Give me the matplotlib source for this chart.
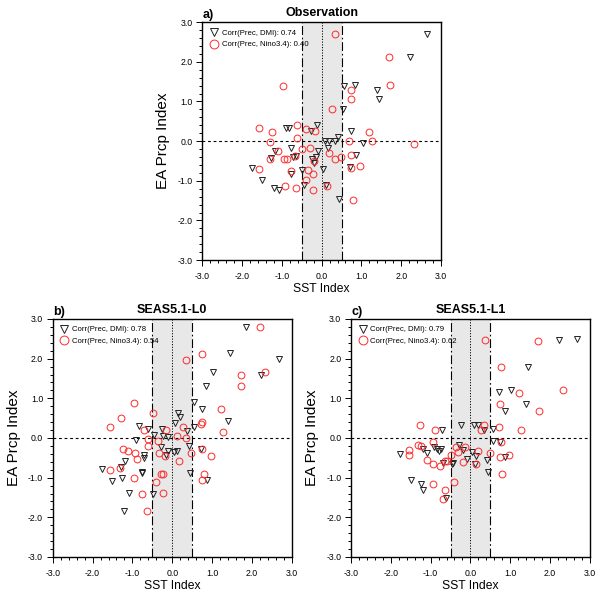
import matplotlib
matplotlib.use("Agg")
import matplotlib.pyplot as plt
from matplotlib.ticker import MultipleLocator, FormatStrFormatter

plt.rcParams["font.family"] = ["Liberation Sans", "DejaVu Sans"]
plt.rcParams["axes.unicode_minus"] = False

# panel a: observation
obs_dmi_x = [2.66, 2.21, 0.56, 0.85, 1.39, 1.43, 0.54, -0.89, -0.83, -0.12, -0.26, 0.73, 0.42,
             0.08, 0.18, 0.34, 1.03, -0.78, -1.18, -0.09, 0.15, -1.27, -0.72, -0.64, -0.24,
             -0.13, 0.86, -1.76, -0.49, -0.19, 0.03, 0.72, -0.77, -1.50, -1.20, -1.07, -0.44,
             0.11, 0.44]
obs_dmi_y = [2.70, 2.13, 1.39, 1.42, 1.30, 1.06, 0.81, 0.32, 0.34, 0.41, 0.25, 0.25, 0.10,
             0.01, 0.01, 0.01, -0.05, -0.18, -0.26, -0.24, -0.17, -0.42, -0.40, -0.37, -0.44,
             -0.39, -0.34, -0.68, -0.74, -0.55, -0.71, -0.66, -0.82, -0.97, -1.18, -1.23, -1.10,
             -1.10, -1.47]
obs_nino_x = [0.34, 1.70, 1.71, -0.96, 0.74, 0.74, 0.25, -1.57, -1.25, -0.63, -0.63, -0.38,
              -0.17, -1.29, 0.69, 1.20, 1.26, 2.32, -1.10, -0.49, -0.28, 0.18, -1.30, -0.95,
              -0.88, -0.67, -0.18, 0.33, 0.48, 0.74, -1.57, -0.77, -0.33, -0.22, 0.74, 0.97,
              -0.40, -0.93, -0.64, 0.13, -0.21, 0.79]
obs_nino_y = [2.70, 2.11, 1.42, 1.39, 1.30, 1.06, 0.82, 0.34, 0.24, 0.40, 0.09, 0.31, 0.26,
              -0.01, 0.00, 0.24, 0.00, -0.06, -0.25, -0.19, -0.18, -0.29, -0.44, -0.44, -0.44,
              -0.38, -0.50, -0.46, -0.41, -0.34, -0.70, -0.76, -0.72, -0.82, -0.67, -0.63,
              -0.97, -1.12, -1.18, -1.12, -1.24, -1.49]

# panel b: SEAS5.1 lead 0
l0_dmi_x = [1.86, 1.45, 2.69, 1.03, 2.24, 0.86, 0.56, 0.75, 0.15, 0.19, 0.08, 1.41, -0.83,
            -0.62, -0.25, 0.36, 0.55, -0.90, -0.45, -0.24, -0.10, 0.42, -0.29, -0.10, 0.04,
            0.12, -0.15, 0.72, -0.72, -0.71, -1.19, -1.29, -1.77, -0.77, -0.77, -1.25, -1.51,
            0.45, 0.87, -1.08, -0.49, -1.21]
l0_dmi_y = [2.79, 2.13, 1.98, 1.67, 1.60, 1.31, 0.90, 0.74, 0.64, 0.52, 0.39, 0.43, 0.29,
            0.22, 0.22, 0.17, 0.28, -0.06, 0.08, 0.05, 0.02, -0.20, -0.24, -0.33, -0.35,
            -0.34, -0.42, -0.28, -0.43, -0.51, -0.58, -0.72, -0.79, -0.88, -0.86, -1.00, -1.08,
            -0.88, -1.05, -1.39, -1.41, -1.83]
l0_nino_x = [2.21, 0.76, 0.35, 1.72, 2.34, 1.73, -0.95, -0.49, 1.22, -1.29, 0.75, 0.72, -1.57,
             -0.70, -0.16, 0.26, 1.28, -0.61, -0.35, 0.13, 0.34, -0.62, -1.24, -1.10, -0.93,
             -0.89, -0.34, -0.19, 0.48, 0.75, 0.98, 0.18, -1.57, -1.32, -0.29, -0.22, 0.80,
             0.75, -0.95, -0.41, -0.77, -0.22, -0.64]
l0_nino_y = [2.79, 2.11, 1.97, 1.58, 1.66, 1.31, 0.89, 0.63, 0.72, 0.51, 0.41, 0.36, 0.28,
             0.21, 0.19, 0.27, 0.14, -0.03, -0.07, 0.06, 0.01, -0.21, -0.27, -0.33, -0.37,
             -0.54, -0.38, -0.46, -0.38, -0.29, -0.46, -0.59, -0.80, -0.75, -0.90, -0.90, -0.90,
             -1.06, -1.01, -1.10, -1.41, -1.39, -1.83]

# panel c: SEAS5.1 lead 1
l1_dmi_x = [2.23, 2.67, 1.44, 0.73, 1.03, 1.40, 0.86, -0.71, -0.24, 0.08, 0.19, 0.33, 0.56,
            0.56, 0.75, -1.76, -1.20, -1.08, -0.91, -0.84, -0.78, -0.74, -0.47, -0.44, -0.69,
            -0.28, -0.19, -0.09, 0.03, 0.13, 0.12, 0.41, 0.87, 0.45, -1.50, -1.23, -1.18, -0.62]
l1_dmi_y = [2.46, 2.49, 1.80, 1.15, 1.21, 0.85, 0.69, 0.21, 0.33, 0.32, 0.33, 0.20, 0.23,
            -0.08, -0.09, -0.41, -0.29, -0.39, -0.22, -0.28, -0.32, -0.28, -0.66, -0.62, -0.62,
            -0.18, -0.31, -0.52, -0.35, -0.46, -0.66, -0.56, -0.48, -0.87, -1.07, -1.16, -1.31,
            -1.52]
l1_nino_x = [0.36, 1.71, 0.76, 2.33, 1.22, 0.74, 1.72, -1.27, -0.88, 0.34, 0.27, 0.71, 1.27,
             -1.31, -1.24, -1.55, -1.55, -0.95, -1.10, -0.93, -0.76, -0.63, -0.58, -0.49,
             -0.37, -0.30, -0.14, -0.19, 0.14, 0.19, 0.48, 0.75, 0.98, 0.79, -0.40, -0.93,
             -0.63, -0.69, 0.76]
l1_nino_y = [2.48, 2.44, 1.80, 1.20, 1.14, 0.85, 0.68, 0.32, 0.19, 0.32, 0.21, 0.28, 0.20,
             -0.18, -0.19, -0.31, -0.43, -0.11, -0.56, -0.66, -0.70, -0.59, -0.57, -0.44,
             -0.24, -0.35, -0.24, -0.60, -0.66, -0.33, -0.39, -0.48, -0.43, -0.90, -1.10, -1.16,
             -1.31, -1.53, -0.09]

corr_dmi = [0.74, 0.78, 0.79]
corr_nino = [0.40, 0.54, 0.62]
titles = ["Observation", "SEAS5.1-L0", "SEAS5.1-L1"]
tags = ["a)", "b)", "c)"]


def draw_panel(ax, dx, dy, nx, ny, r_dmi, r_nino, title, tag):
    ax.axvspan(-0.5, 0.5, color="#e8e8e8", lw=0, zorder=0)
    ax.axhline(0, color="black", lw=0.8, ls=(0, (2.5, 2.5)), zorder=1)
    ax.axvline(0, color="black", lw=0.7, ls=(0, (1.2, 1.6)), zorder=1)
    for xv in (-0.5, 0.5):
        ax.axvline(xv, color="black", lw=0.8, ls=(0, (8, 2.5, 1.5, 2.5)), zorder=1)

    h1, = ax.plot(dx, dy, ls="none", marker="v", ms=4.6, mfc="none", mec="#222222",
                  mew=0.7, zorder=3, label=f"Corr(Prec, DMI): {r_dmi:.2f}")
    h2, = ax.plot(nx, ny, ls="none", marker="o", ms=4.9, mfc="none", mec="#ff2a2a",
                  mew=0.7, zorder=3, label=f"Corr(Prec, Nino3.4): {r_nino:.2f}")

    ax.set_xlim(-3, 3)
    ax.set_ylim(-3, 3)
    for axis in (ax.xaxis, ax.yaxis):
        axis.set_major_locator(MultipleLocator(1.0))
        axis.set_minor_locator(MultipleLocator(0.2))
        axis.set_major_formatter(FormatStrFormatter("%.1f"))
    ax.tick_params(which="both", direction="out", top=False, right=False, width=0.7,
                   labelsize=6.3)
    ax.tick_params(which="major", length=4.0)
    ax.tick_params(which="minor", length=2.2)
    ax.tick_params(axis="x", pad=4.5)
    ax.tick_params(axis="y", pad=3.0)
    for sp in ax.spines.values():
        sp.set_linewidth(1.0)

    ax.set_xlabel("SST Index", fontsize=8.7)
    ax.set_ylabel("EA Prcp Index", fontsize=11)
    ax.xaxis.set_label_coords(0.5, -0.095)
    ax.yaxis.set_label_coords(-0.135, 0.5)
    ax.set_title(title, fontsize=9, fontweight="bold", pad=4.3)
    ax.text(0.0, 1.018, tag, transform=ax.transAxes, fontsize=9, fontweight="bold",
            ha="left", va="baseline")

    ax.legend(handles=[h1, h2], loc="upper left", frameon=False, fontsize=5.6,
              markerscale=1.3, handlelength=1.2, handletextpad=0.4, labelspacing=0.55,
              borderaxespad=0.3, borderpad=0.6)


fig = plt.figure(figsize=(6, 5.98), dpi=100)
w, h = 0.398, 0.398
ax_a = fig.add_axes([0.337, 0.565, w, h])
ax_b = fig.add_axes([0.088, 0.0686, w, h])
ax_c = fig.add_axes([0.585, 0.0686, w, h])

data = [(obs_dmi_x, obs_dmi_y, obs_nino_x, obs_nino_y),
        (l0_dmi_x, l0_dmi_y, l0_nino_x, l0_nino_y),
        (l1_dmi_x, l1_dmi_y, l1_nino_x, l1_nino_y)]
for i, ax in enumerate([ax_a, ax_b, ax_c]):
    dx, dy, nx, ny = data[i]
    draw_panel(ax, dx, dy, nx, ny, corr_dmi[i], corr_nino[i], titles[i], tags[i])

fig.savefig("out.png", dpi=100)
